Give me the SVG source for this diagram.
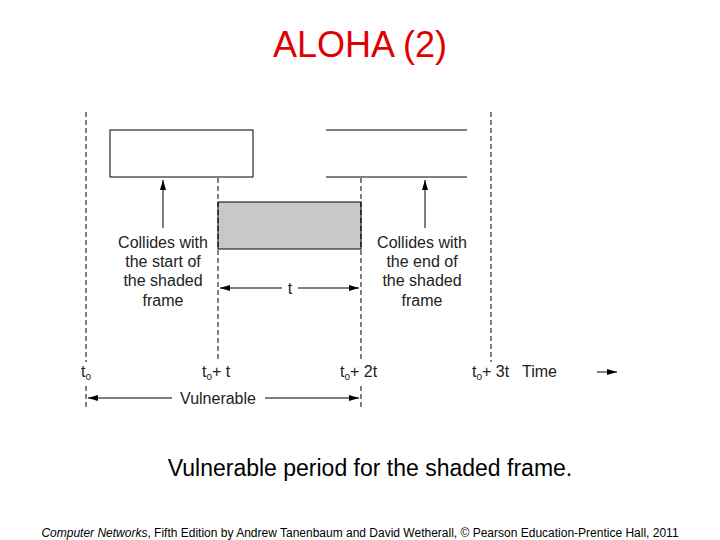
<svg xmlns="http://www.w3.org/2000/svg" width="720" height="540" viewBox="0 0 720 540">
<defs>
<marker id="ah" markerWidth="10" markerHeight="6" refX="10" refY="3" orient="auto" markerUnits="userSpaceOnUse"><path d="M0,0 L10,3 L0,6 Z" fill="#000"/></marker>
<style>
.d{stroke:#000;stroke-width:1;stroke-dasharray:5,3;fill:none}
.l{stroke:#000;stroke-width:1;fill:none}
.a{stroke:#000;stroke-width:1;fill:none;marker-end:url(#ah)}
.t{font-family:"Liberation Sans",Arial,sans-serif;font-size:16px;fill:#222}
.s{font-size:10px}
</style>
</defs>
<rect width="720" height="540" fill="#fff"/>
<text x="360" y="57" text-anchor="middle" font-family="Liberation Sans,Arial,sans-serif" font-size="36" fill="#e00000">ALOHA (2)</text>
<g id="frames">
<rect id="left-frame" x="110" y="130" width="143" height="47" class="l" fill="#fff"/>
<g id="right-frame"><line x1="326" y1="130" x2="467" y2="130" class="l"/><line x1="326" y1="177" x2="467" y2="177" class="l"/></g>
<rect id="shaded-frame" x="218" y="202" width="143" height="47" fill="#c8c8c8" stroke="#000"/>
</g>
<g id="connectors">
<line x1="86" y1="112" x2="86" y2="362" class="d"/>
<line x1="86" y1="386" x2="86" y2="408" class="d"/>
<line x1="218" y1="178" x2="218" y2="362" class="d"/>
<line x1="361" y1="178" x2="361" y2="362" class="d"/>
<line x1="361" y1="386" x2="361" y2="408" class="d"/>
<line x1="491" y1="112" x2="491" y2="362" class="d"/>
<line x1="163" y1="228" x2="163" y2="180" class="a"/>
<line x1="425" y1="228" x2="425" y2="180" class="a"/>
<line x1="282" y1="288" x2="220" y2="288" class="a"/>
<line x1="298" y1="288" x2="359" y2="288" class="a"/>
<line x1="172" y1="398" x2="88" y2="398" class="a"/>
<line x1="265" y1="398" x2="359" y2="398" class="a"/>
<line x1="597" y1="372" x2="617" y2="372" class="a"/>
</g>
<g id="labels" class="t" text-anchor="middle">
<text x="163" y="248">Collides with</text>
<text x="163" y="267">the start of</text>
<text x="163" y="286">the shaded</text>
<text x="163" y="306">frame</text>
<text x="422" y="248">Collides with</text>
<text x="422" y="267">the end of</text>
<text x="422" y="286">the shaded</text>
<text x="422" y="306">frame</text>
<text x="290" y="294">t</text>
<text x="218" y="404">Vulnerable</text>
</g>
<g id="ticks" class="t">
<text x="81" y="377">t<tspan class="s" dy="3">o</tspan></text>
<text x="202" y="377">t<tspan class="s" dy="3">o</tspan><tspan dy="-3">+ t</tspan></text>
<text x="340" y="377">t<tspan class="s" dy="3">o</tspan><tspan dy="-3">+ 2t</tspan></text>
<text x="472" y="377">t<tspan class="s" dy="3">o</tspan><tspan dy="-3">+ 3t</tspan></text>
<text x="522" y="377">Time</text>
</g>
<text x="370" y="476" text-anchor="middle" font-family="Liberation Sans,Arial,sans-serif" font-size="23" fill="#000">Vulnerable period for the shaded frame.</text>
<text x="360" y="537" text-anchor="middle" font-family="Liberation Sans,Arial,sans-serif" font-size="12" fill="#000"><tspan font-style="italic">Computer Networks</tspan>, Fifth Edition by Andrew Tanenbaum and David Wetherall, © Pearson Education-Prentice Hall, 2011</text>
</svg>
